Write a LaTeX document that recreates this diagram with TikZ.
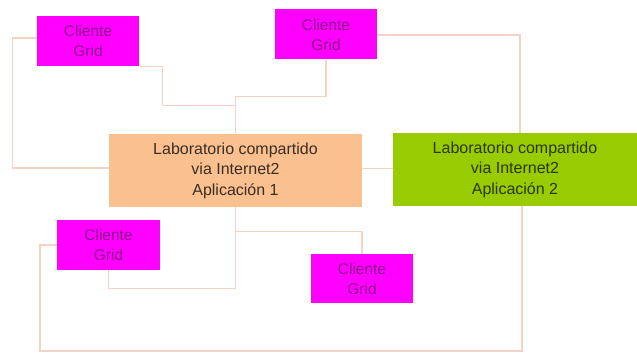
\documentclass[tikz,border=0pt]{standalone}
\usepackage{fontspec}
\setmainfont{Liberation Sans}
\usetikzlibrary{calc}
\definecolor{cgfill}{HTML}{FF00FF}
\definecolor{cgtext}{HTML}{8E0A8E}
\definecolor{labone}{HTML}{FAC090}
\definecolor{labtwo}{HTML}{99CC00}
\definecolor{labonetext}{HTML}{3A2E22}
\definecolor{labtwotext}{HTML}{2A3600}
\definecolor{wire}{HTML}{F6D2C4}
\begin{document}
\begin{tikzpicture}[x=1pt,y=-1pt,
  cgbox/.style={fill=cgfill,draw=none,minimum width=102pt,minimum height=50pt,inner sep=0pt,
    align=center,text=cgtext,font=\fontsize{15.5}{20}\selectfont},
  labbox/.style={draw=none,minimum height=73pt,inner sep=0pt,align=center,
    font=\fontsize{16}{20.5}\selectfont},
  wireline/.style={draw=wire,line width=1.3pt}]
\useasboundingbox (0,0) rectangle (637,353);
\node[cgbox] (cg1) at (88,41) {Cliente\\Grid};
\node[cgbox] (cg2) at (326,34.5) {Cliente\\Grid};
\node[cgbox,minimum width=103pt] (cg3) at (108.5,245) {Cliente\\Grid};
\node[cgbox,minimum height=49pt] (cg4) at (362,278.5) {Cliente\\Grid};
\node[labbox,fill=labone,text=labonetext,minimum width=253pt] (lab1) at (235.5,170.5)
  {Laboratorio compartido\\via Internet2\\Aplicación 1};
\node[labbox,fill=labtwo,text=labtwotext,minimum width=244pt] (lab2) at (515,169.5)
  {Laboratorio compartido\\via Internet2\\Aplicación 2};
\coordinate (bl) at (40,351);
\draw[wireline] ([yshift=3pt]cg1.west) -- ++(-24,0) |- ([yshift=2.5pt]lab1.west);
\draw[wireline] (cg1.south east) -- ++(23,0) |- ($(lab1.north)+(0,-28)$);
\draw[wireline] (cg2.south) -- ++(0,37) -| (lab1.north);
\draw[wireline] ([yshift=-0.5pt]cg2.east) -| ([xshift=5pt]lab2.north);
\draw[wireline] ([yshift=2pt]lab1.east) -- ([yshift=2pt]lab1.east -| lab2.west);
\draw[wireline] (lab1.south) |- ($(cg3.south)+(0,18)$) -- (cg3.south);
\draw[wireline] ($(lab1.south)+(0,24)$) -| (cg4.north);
\draw[wireline] (cg3.west) -| (bl) -| ([xshift=7pt]lab2.south);
\end{tikzpicture}
\end{document}
